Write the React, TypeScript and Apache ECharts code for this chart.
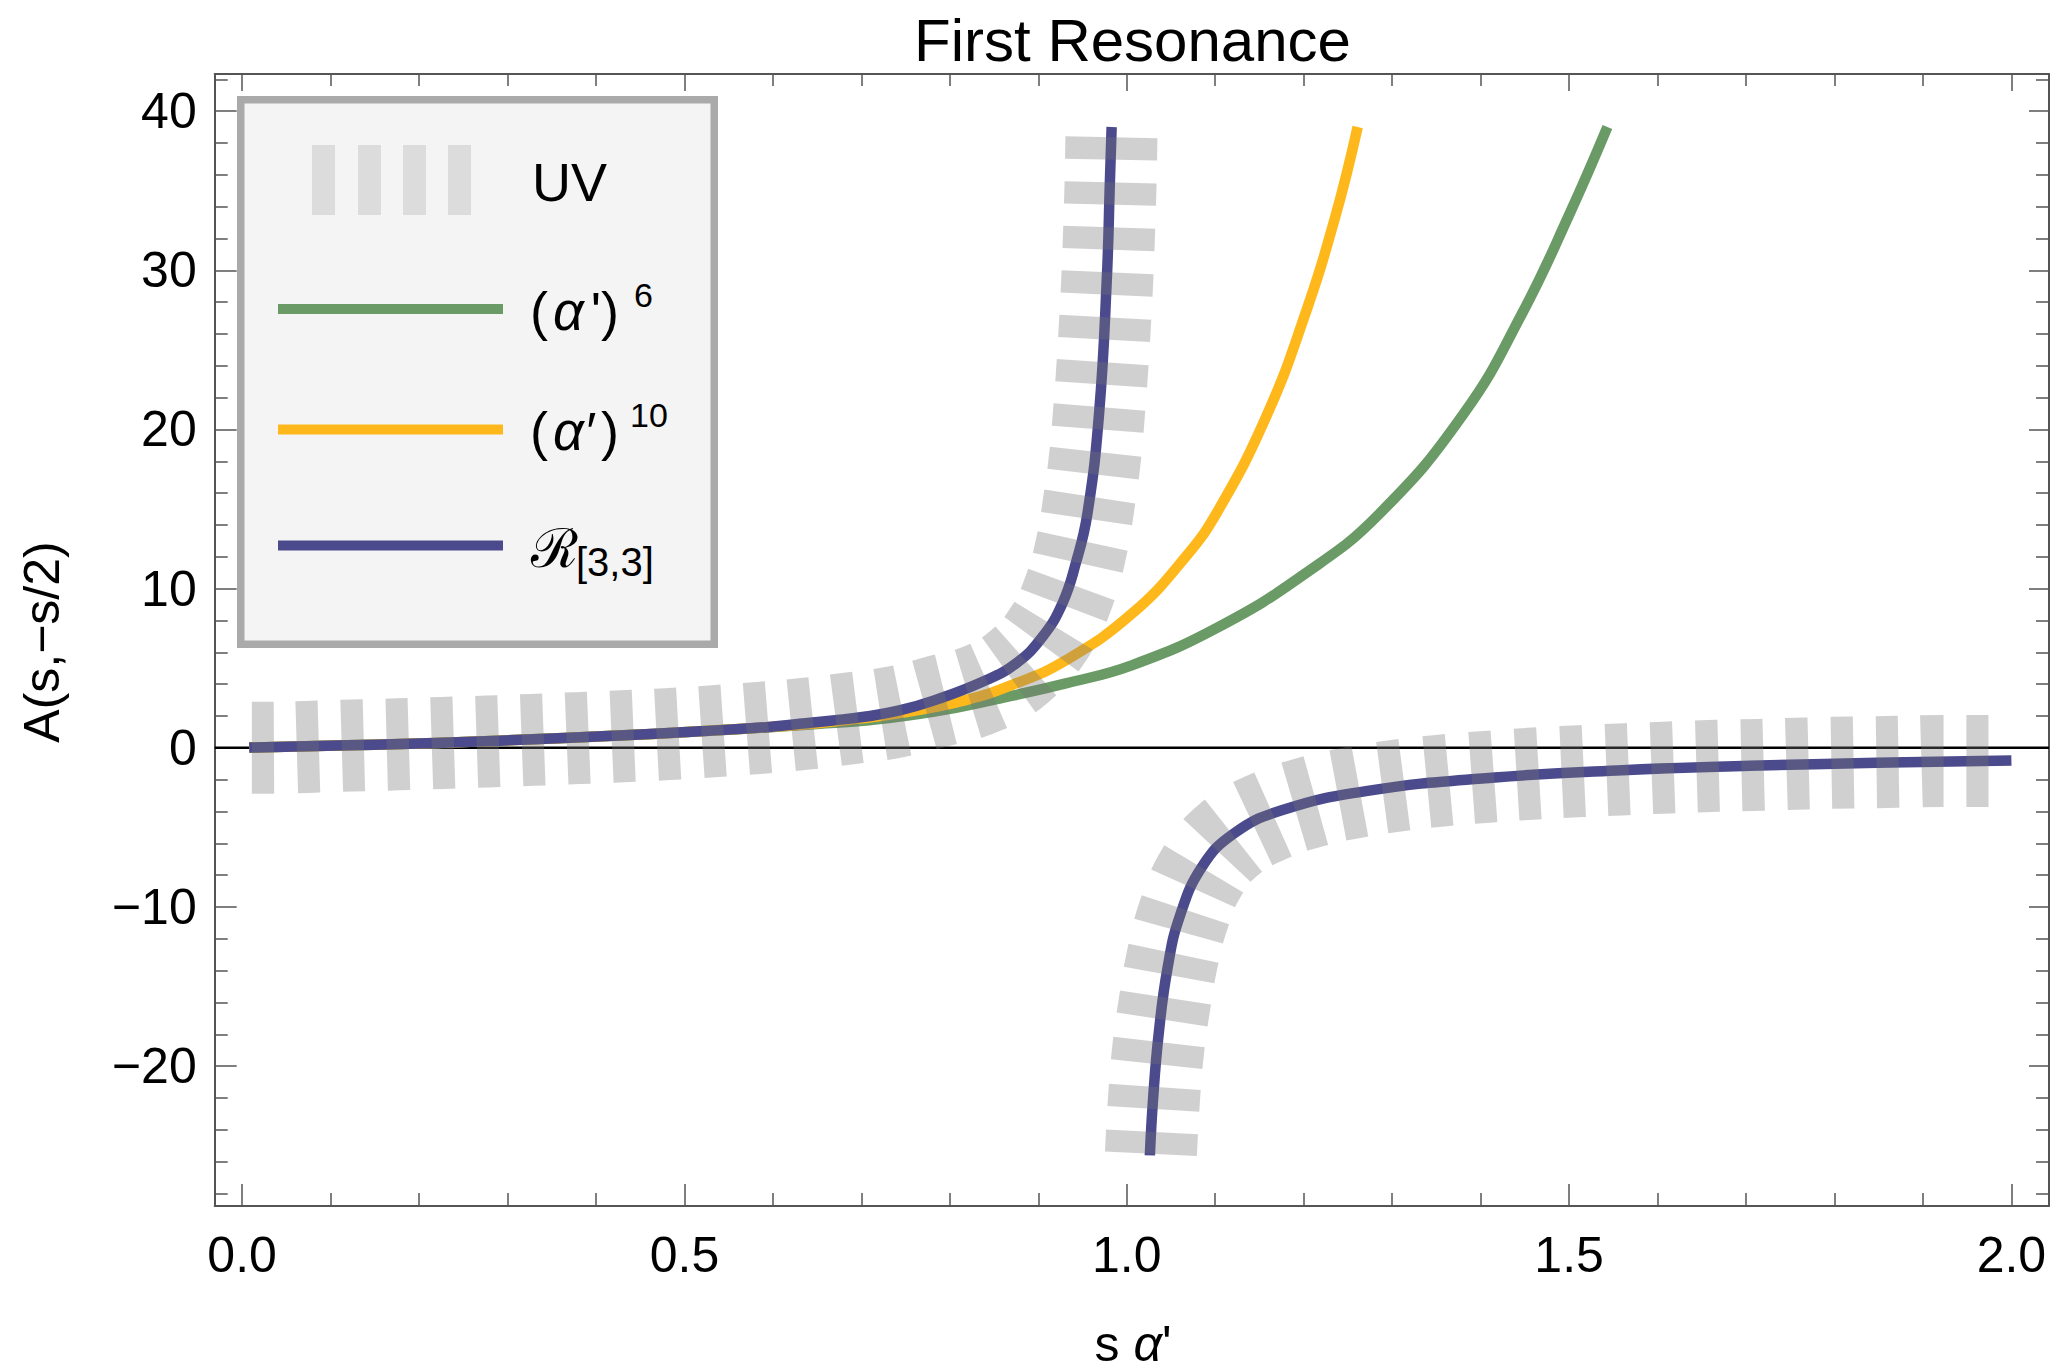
import React, { useEffect, useRef } from "react";
import * as echarts from "echarts";

const FONT = '"Liberation Sans", Arial, Helvetica, sans-serif';

// plot range (with Mathematica-style padding)
const X_RANGE = [-0.031, 2.0425];
const Y_RANGE = [-28.78, 42.33];

// UV curve (gray, thick dashed) – upper and lower branch around the pole
const uvUpper: number[][] = [
  [0.011, 0.0], [0.0235, 0.0], [0.0737, 0.06], [0.1247, 0.15], [0.176, 0.22], [0.2269, 0.31],
  [0.2777, 0.4], [0.3285, 0.5], [0.3792, 0.61], [0.43, 0.73], [0.4808, 0.86], [0.5312, 1.04],
  [0.5858, 1.26], [0.6361, 1.51], [0.6869, 1.85], [0.7385, 2.26], [0.7882, 2.95], [0.8378, 3.75],
  [0.8792, 5.14], [0.9131, 7.29], [0.9349, 9.87], [0.9487, 12.63], [0.9574, 15.49], [0.9642, 18.29],
  [0.9687, 21.14], [0.9725, 23.99], [0.9755, 26.8], [0.9781, 29.6], [0.98, 32.4], [0.9816, 35.3],
  [0.9826, 38.1], [0.9829, 38.9],
];
const uvLower: number[][] = [
  [1.0273, -25.5], [1.0311, -21.79], [1.0355, -18.96], [1.0426, -16.11],
  [1.0513, -13.3], [1.0642, -10.52], [1.0843, -7.86], [1.1152, -5.76], [1.1591, -4.34],
  [1.2089, -3.39], [1.2593, -2.77], [1.3096, -2.34], [1.36, -2.03], [1.4112, -1.8], [1.4615, -1.61],
  [1.5133, -1.46], [1.5644, -1.34], [1.6148, -1.23], [1.6667, -1.13], [1.717, -1.07], [1.7675, -0.98],
  [1.82, -0.92], [1.8711, -0.88], [1.9222, -0.82], [1.9726, -0.82], [2.0, -0.8],
];

// (alpha')^6 truncation – green
const alpha6: number[][] = [
  [0.008, 0.02], [0.149, 0.2], [0.29, 0.45], [0.438, 0.8], [0.517, 1.04], [0.5925, 1.28],
  [0.65, 1.5], [0.7054, 1.72], [0.7806, 2.26], [0.856, 3.1], [0.9311, 4.05], [1.0063, 5.2],
  [1.104, 7.6], [1.202, 10.96], [1.2855, 14.7], [1.381, 21.0], [1.447, 27.3], [1.501, 33.6],
  [1.5433, 39.0],
];

// (alpha')^10 truncation – orange
const alpha10: number[][] = [
  [0.008, 0.02], [0.149, 0.2], [0.29, 0.45], [0.438, 0.8], [0.517, 1.04], [0.5925, 1.29],
  [0.65, 1.55], [0.7, 1.85], [0.743, 2.18], [0.818, 3.0], [0.8747, 4.05], [0.9311, 5.5],
  [1.0063, 8.45], [1.0665, 12.0], [1.1042, 15.0], [1.1576, 20.8], [1.2002, 27.0], [1.2359, 33.4],
  [1.261, 39.0],
];

// R[3,3] Padé approximant – blue, two branches
const padeUpper: number[][] = [
  [0.008, 0.02], [0.149, 0.2], [0.29, 0.45], [0.438, 0.8], [0.517, 1.04], [0.5925, 1.3],
  [0.63, 1.51], [0.6677, 1.72], [0.7054, 1.97], [0.743, 2.35], [0.7806, 2.95], [0.837, 4.15],
  [0.8747, 5.3], [0.9047, 6.98], [0.9273, 9.08], [0.9424, 11.6], [0.9555, 14.7], [0.9687, 21.0],
  [0.9774, 29.4], [0.981, 35.7], [0.9829, 39.0],
];
const padeLower: number[][] = [
  [1.0261, -25.6], [1.0297, -22.1], [1.0361, -17.95], [1.0462, -13.8], [1.0598, -10.6],
  [1.085, -7.48], [1.1211, -5.38], [1.1751, -3.92], [1.2722, -2.7], [1.4161, -1.86],
  [1.5601, -1.4], [1.7041, -1.13], [1.848, -0.94], [2.0, -0.79],
];

const zeroLine: number[][] = [[X_RANGE[0], 0], [X_RANGE[1], 0]];

const TITLE = "First Resonance";
const Y_NAME = "A(s,\u2212s/2)";

const GREEN = "#6a9a66";
const ORANGE = "#ffb81c";
const BLUE = "#4b4a8c";
const UV_COLOR = "rgba(118,118,118,0.34)";
const FRAME = "#555555";

function App() {
  const ref = useRef<HTMLDivElement>(null);

  useEffect(() => {
    if (!ref.current) return;
    const chart = echarts.init(ref.current, undefined, { renderer: "svg" });

    const axisBase = (tickLen: number, minorLen: number) => ({
      type: "value",
      splitLine: { show: false },
      axisLine: { show: true, onZero: false, lineStyle: { color: FRAME, width: 2 } },
      axisTick: { show: true, inside: true, length: tickLen, lineStyle: { color: FRAME, width: 1.5 } },
      minorTick: { show: true, splitNumber: 5, length: minorLen, lineStyle: { color: FRAME, width: 1.5 } },
    });

    const xFmt = (v: number) =>
      Math.abs(v * 2 - Math.round(v * 2)) > 1e-6 ? "" : v.toFixed(1);
    const yFmt = (v: number) => {
      if (Math.abs(v / 10 - Math.round(v / 10)) > 1e-6) return "";
      return v < 0 ? "\u2212" + Math.abs(v) : String(v);
    };

    const line = (data: number[][], color: string, width: number, extra: any = {}) => ({
      type: "line",
      data,
      showSymbol: false,
      symbol: "none",
      smooth: 0.45,
      silent: true,
      emphasis: { disabled: true },
      lineStyle: { color, width, cap: "butt", join: "round" },
      ...extra,
    });

    const uvStyle = { color: UV_COLOR, width: 92, type: [22, 23], cap: "butt", join: "round" };

    const txt = (x: number, y: number, text: string, size: number, extra: any = {}) => ({
      type: "text",
      x,
      y,
      z: 100,
      silent: true,
      style: {
        text,
        fontSize: size,
        fontFamily: FONT,
        fill: "#000",
        align: "left",
        verticalAlign: "middle",
        ...extra,
      },
    });

    const legendBarsX = [312, 358, 403, 448];
    const legendRich = {
      r: { fontSize: 54, fontFamily: FONT, fill: "#000" },
      i: { fontSize: 54, fontFamily: FONT, fontStyle: "italic", fill: "#000", padding: [0, 7, 0, 5] },
    };

    const option: any = {
      animation: false,
      backgroundColor: "#ffffff",
      grid: { left: 214.7, right: 4, top: 74, bottom: 166, containLabel: false, outerBoundsMode: "none" },
      xAxis: [
        {
          ...axisBase(22, 13),
          position: "bottom",
          min: X_RANGE[0],
          max: X_RANGE[1],
          axisLabel: {
            show: true, fontSize: 50, fontFamily: FONT, color: "#000", margin: 24,
            showMinLabel: false, showMaxLabel: false, formatter: xFmt,
          },
        },
        {
          ...axisBase(17, 12),
          position: "top",
          min: X_RANGE[0],
          max: X_RANGE[1],
          axisLabel: { show: false },
        },
      ],
      yAxis: [
        {
          ...axisBase(22, 13),
          position: "left",
          min: Y_RANGE[0],
          max: Y_RANGE[1],
          axisLabel: {
            show: true, fontSize: 50, fontFamily: FONT, color: "#000", margin: 18,
            showMinLabel: false, showMaxLabel: false, formatter: yFmt,
          },
        },
        {
          ...axisBase(20, 13),
          position: "right",
          min: Y_RANGE[0],
          max: Y_RANGE[1],
          axisLabel: { show: false },
        },
      ],
      series: [
        { ...line(zeroLine, "#000", 2.5), smooth: false, name: "axis" },
        line(alpha6, GREEN, 10.5, { name: "(α')^6" }),
        line(alpha10, ORANGE, 10.5, { name: "(α′)^10" }),
        line(padeUpper, BLUE, 10.5, { name: "R[3,3]" }),
        line(padeLower, BLUE, 10.5, { name: "R[3,3] lower" }),
        { ...line(uvUpper, UV_COLOR, 92), lineStyle: uvStyle, name: "UV" },
        { ...line(uvLower, UV_COLOR, 92), lineStyle: uvStyle, name: "UV lower" },
      ],
      graphic: [
        // title
        txt(1132.5, 40, TITLE, 60, { align: "center" }),
        // y axis name
        {
          type: "text", x: 42, y: 642, rotation: Math.PI / 2, z: 100, silent: true,
          style: { text: Y_NAME, fontSize: 50, fontFamily: FONT, fill: "#000", align: "center", verticalAlign: "middle" },
        },
        // x axis name
        {
          type: "text", x: 1133, y: 1344, z: 100, silent: true,
          style: {
            text: "{r|s }{i|α}{r|'}",
            align: "center",
            verticalAlign: "middle",
            rich: {
              r: { fontSize: 50, fontFamily: FONT, fill: "#000" },
              i: { fontSize: 50, fontFamily: FONT, fontStyle: "italic", fill: "#000" },
            },
          },
        },
        // legend box
        {
          type: "rect", z: 90, silent: true,
          shape: { x: 240.75, y: 99.75, width: 473.5, height: 544.5 },
          style: { fill: "#f4f4f4", stroke: "#aaaaaa", lineWidth: 7.5 },
        },
        ...legendBarsX.map((x) => ({
          type: "rect", z: 95, silent: true,
          shape: { x, y: 145, width: 23, height: 70 },
          style: { fill: "#dcdcdc" },
        })),
        { type: "rect", z: 95, silent: true, shape: { x: 278, y: 304, width: 225, height: 10 }, style: { fill: GREEN } },
        { type: "rect", z: 95, silent: true, shape: { x: 278, y: 424.5, width: 225, height: 10 }, style: { fill: ORANGE } },
        { type: "rect", z: 95, silent: true, shape: { x: 278, y: 540.5, width: 225, height: 10 }, style: { fill: BLUE } },
        txt(532, 182, "UV", 54),
        {
          type: "text", x: 530, y: 311, z: 100, silent: true,
          style: { text: "{r|(}{i|α}{r|')}", align: "left", verticalAlign: "middle", rich: legendRich },
        },
        txt(634, 295, "6", 34),
        {
          type: "text", x: 530, y: 431, z: 100, silent: true,
          style: { text: "{r|(}{i|α′}{r|)}", align: "left", verticalAlign: "middle", rich: legendRich },
        },
        txt(630, 415, "10", 34),
        txt(531, 548, "ℛ", 54),
        txt(576, 562, "[3,3]", 40),
      ],
    };

    chart.setOption(option);
    return () => chart.dispose();
  }, []);

  return (
    <div
      ref={ref}
      style={{ position: "fixed", left: 0, top: 0, width: 2053, height: 1372, background: "#fff" }}
    />
  );
}

export default App;
